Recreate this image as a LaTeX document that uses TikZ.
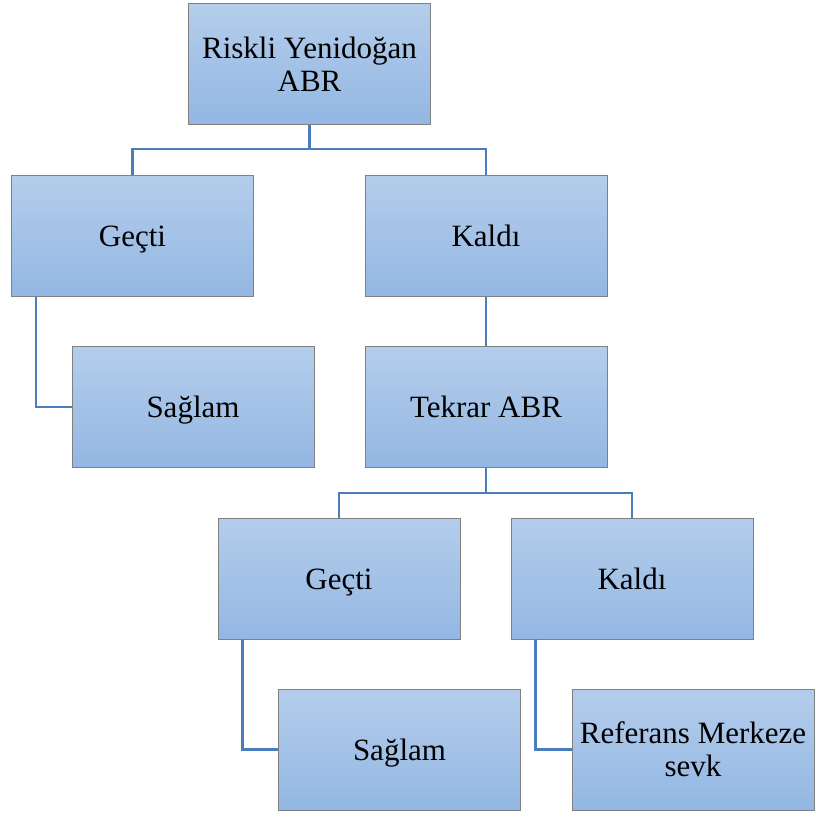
\documentclass[tikz,border=0pt]{standalone}
\usepackage{fontspec}
\setmainfont{Liberation Serif}
\definecolor{boxtop}{RGB}{180,205,235}
\definecolor{boxbot}{RGB}{147,183,227}
\definecolor{boxline}{RGB}{128,128,128}
\definecolor{connline}{RGB}{74,126,187}
\begin{document}
\begin{tikzpicture}[x=1pt,y={(0pt,-1pt)},
  box/.style={draw=boxline, line width=1pt, top color=boxtop, bottom color=boxbot,
    minimum width=242pt, minimum height=121pt, inner sep=0pt, align=center,
    font=\fontsize{31}{33}\selectfont},
  onebox/.style={box, text height=21pt, text depth=0pt},
  conn/.style={draw=connline, line width=2.5pt}]
\useasboundingbox (0,0) rectangle (815,817);
\node[box] (root) at (309.5,64) {Riskli Yenidoğan\\ABR};
\node[onebox] (g1) at (132.5,235.5) {Geçti};
\node[onebox] (k1) at (486,235.5) {Kaldı};
\node[onebox] (s1) at (193,407) {Sağlam};
\node[onebox] (t) at (486,407) {Tekrar ABR};
\node[onebox] (g2) at (339,578.5) {Geçti};
\node[onebox] (k2) at (632,578.5) {Kaldı};
\node[onebox] (s2) at (399.5,749.5) {Sağlam};
\node[box] (r) at (693,749.5) {Referans Merkeze\\sevk};
\draw[conn] (root.south) -- ++(0,24) -| (g1.north);
\draw[conn] (root.south) -- ++(0,24) -| (k1.north);
\draw[conn] ([xshift=25pt]g1.south west) |- (s1.west);
\draw[conn] (k1.south) -- (t.north);
\draw[conn] (t.south) -- ++(0,25) -| (g2.north);
\draw[conn] (t.south) -- ++(0,25) -| (k2.north);
\draw[conn] ([xshift=25pt]g2.south west) |- (s2.west);
\draw[conn] ([xshift=25pt]k2.south west) |- (r.west);
\end{tikzpicture}
\end{document}
